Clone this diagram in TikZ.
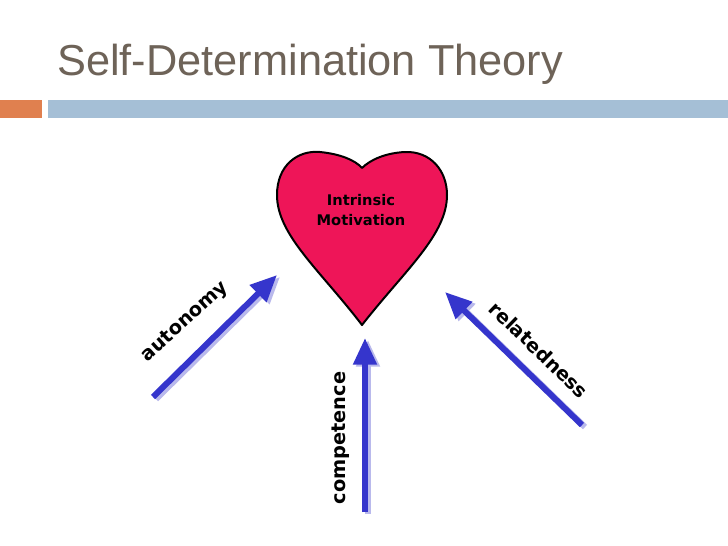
\documentclass[tikz,border=0pt]{standalone}
\usepackage{fontspec}
\setmainfont{Liberation Sans}
\newfontfamily\comic{DejaVu Sans}
\usetikzlibrary{arrows.meta}
\definecolor{titlegray}{HTML}{6E6358}
\definecolor{barorange}{HTML}{E0804F}
\definecolor{barblue}{HTML}{A5BFD6}
\definecolor{heartpink}{HTML}{EE1558}
\definecolor{arrblue}{HTML}{3535CC}
\definecolor{arrshadow}{HTML}{B9B9EC}
\tikzset{
  big arrow/.style={line width=4.5pt, arrblue, -{Triangle[length=20pt,width=17pt]}},
  shadow arrow/.style={line width=4.5pt, arrshadow, -{Triangle[length=20pt,width=17pt]}},
  lbl/.style={font=\comic\bfseries\fontsize{14.5}{14.5}\selectfont, text=black, inner sep=0pt}
}
\begin{document}
\begin{tikzpicture}[x=0.75pt,y=-0.75pt]
\useasboundingbox (0,0) rectangle (728,546);
\fill[white] (0,0) rectangle (728,546);
\node[anchor=base west, text=titlegray, font=\fontsize{32.5}{34}\selectfont, inner sep=0pt] (title) at (57,75) {Self-Determination Theory};
\fill[barorange] (0,100) rectangle (42,118);
\fill[barblue] (48,100) rectangle (728,118);
% heart
\draw[fill=heartpink, line width=1.5pt, line join=round]
 (362,325) .. controls (320,270) and (277,235) .. (277,195)
 .. controls (277,165) and (298,150) .. (320,152)
 .. controls (340,154) and (355,160) .. (362,168)
 .. controls (370,160) and (385,153) .. (405,152)
 .. controls (430,151) and (447,170) .. (447,195)
 .. controls (447,235) and (405,270) .. (362,325) -- cycle;
\node[font=\comic\bfseries\fontsize{11}{15}\selectfont, align=center, inner sep=0pt] (im) at (361,210) {Intrinsic\\Motivation};
% arrows
\coordinate (a1) at (153,397); \coordinate (a2) at (277,275);
\coordinate (c1) at (365,512); \coordinate (c2) at (365,338);
\coordinate (r1) at (582,425); \coordinate (r2) at (445,292);
\draw[shadow arrow] ([shift={(3,2)}]a1) -- ([shift={(3,2)}]a2);
\draw[shadow arrow] ([shift={(3,2)}]c1) -- ([shift={(3,2)}]c2);
\draw[shadow arrow] ([shift={(3,2)}]r1) -- ([shift={(3,2)}]r2);
\draw[big arrow] (a1) -- (a2);
\draw[big arrow] (c1) -- (c2);
\draw[big arrow] (r1) -- (r2);
\node[lbl, rotate=42] (la) at (185,322) {autonomy};
\node[lbl, rotate=90] (lc) at (341,438) {competence};
\node[lbl, rotate=-44] (lr) at (539,350) {relatedness};
\end{tikzpicture}
\end{document}
